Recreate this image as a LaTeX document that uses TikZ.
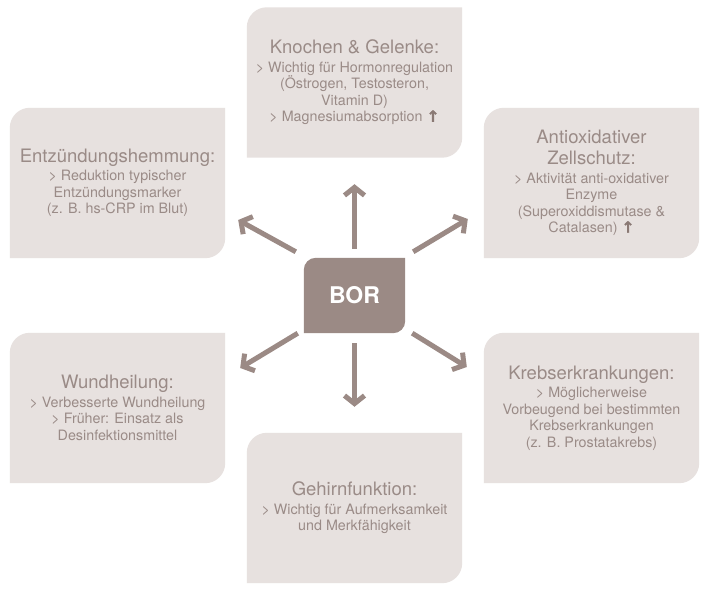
\documentclass[tikz,border=0pt]{standalone}
\usepackage{fontspec}
\setmainfont{TeX Gyre Heros}
\newfontfamily\symfam{DejaVu Sans Bold}[FakeBold=1.6]
\usetikzlibrary{arrows.meta,calc,backgrounds}
\definecolor{boxbg}{HTML}{E7E1DF}
\definecolor{bormain}{HTML}{9B8A85}
\definecolor{txt}{HTML}{9A8B87}
\definecolor{uparcol}{HTML}{8A7974}
\newcommand{\ttl}{\fontsize{18.5}{21}\selectfont}
\newcommand{\uparr}{{\symfam\fontsize{15.5}{16.5}\selectfont\color{uparcol}↑}}
\newcommand{\leafshape}[3]{\fill[#2] (#1.south west) -- ([yshift=-#3]#1.north west) arc[start angle=180,end angle=90,radius=#3] -- (#1.north east) -- ([yshift=#3]#1.south east) arc[start angle=0,end angle=-90,radius=#3] -- cycle;}
\tikzset{
  infobox/.style={minimum width=215pt, minimum height=150pt, inner sep=0pt, align=center, text=txt, font=\fontsize{14.3}{16.5}\selectfont},
  borbox/.style={minimum width=101pt, minimum height=75pt, inner sep=0pt, text=white, font=\fontsize{23}{26}\selectfont\bfseries},
  arr/.style={draw=bormain, line width=5pt, -{Straight Barb[length=8pt,width=20pt]}},
}
\begin{document}
\begin{tikzpicture}[x=1pt,y=1pt]
\useasboundingbox (0,0) rectangle (713,594);

\node[borbox] (bor) at (354.5,298.5) {BOR};
\node[infobox] (knochen) at (354.5,511.5) {{\ttl Knochen \& Gelenke:}\\[2pt]> Wichtig für Hormonregulation\\(Östrogen, Testosteron,\\Vitamin D)\\> Magnesiumabsorption \uparr};
\node[infobox] (entz) at (117.5,411) {{\ttl Entzündungshemmung:}\\[2pt]> Reduktion typischer\\Entzündungsmarker\\(z. B. hs-CRP im Blut)};
\node[infobox] (antiox) at (591.5,411) {{\ttl Antioxidativer}\\[4.5pt]{\ttl Zellschutz:}\\[2pt]> Aktivität anti-oxidativer\\Enzyme\\(Superoxiddismutase \&\\Catalasen) \uparr};
\node[infobox] (wund) at (117.5,186) {{\ttl Wundheilung:}\\[2pt]> Verbesserte Wundheilung\\> Früher: Einsatz als\\Desinfektionsmittel};
\node[infobox] (krebs) at (591.5,186) {{\ttl Krebserkrankungen:}\\[2pt]> Möglicherweise\\Vorbeugend bei bestimmten\\Krebserkrankungen\\(z. B. Prostatakrebs)};
\node[infobox] (gehirn) at (354.5,86) {{\ttl Gehirnfunktion:}\\[2pt]> Wichtig für Aufmerksamkeit\\und Merkfähigkeit};

\begin{pgfonlayer}{background}
\fill[white] (0,0) rectangle (713,594);
\leafshape{knochen}{boxbg}{20pt}
\leafshape{entz}{boxbg}{20pt}
\leafshape{antiox}{boxbg}{20pt}
\leafshape{wund}{boxbg}{20pt}
\leafshape{krebs}{boxbg}{20pt}
\leafshape{gehirn}{boxbg}{20pt}
\leafshape{bor}{bormain}{12pt}
\end{pgfonlayer}

\coordinate (ulS) at ($(bor.north west)+(-8,6)$);
\coordinate (ulE) at ($(entz.east)+(13,-37)$);
\coordinate (urS) at ($(bor.north east)+(8,6)$);
\coordinate (urE) at ($(antiox.west)+(-16,-36)$);
\coordinate (llS) at ($(bor.south west)+(-6,0)$);
\coordinate (llE) at ($(wund.east)+(15,40)$);
\coordinate (lrS) at ($(bor.south east)+(7,0)$);
\coordinate (lrE) at ($(krebs.west)+(-17,41)$);

\draw[arr, shorten <=9pt, shorten >=26.5pt] (bor.north) -- (knochen.south);
\draw[arr, shorten <=10pt, shorten >=26pt] (bor.south) -- (gehirn.north);
\draw[arr] (ulS) -- (ulE);
\draw[arr] (urS) -- (urE);
\draw[arr] (llS) -- (llE);
\draw[arr] (lrS) -- (lrE);
\end{tikzpicture}
\end{document}
